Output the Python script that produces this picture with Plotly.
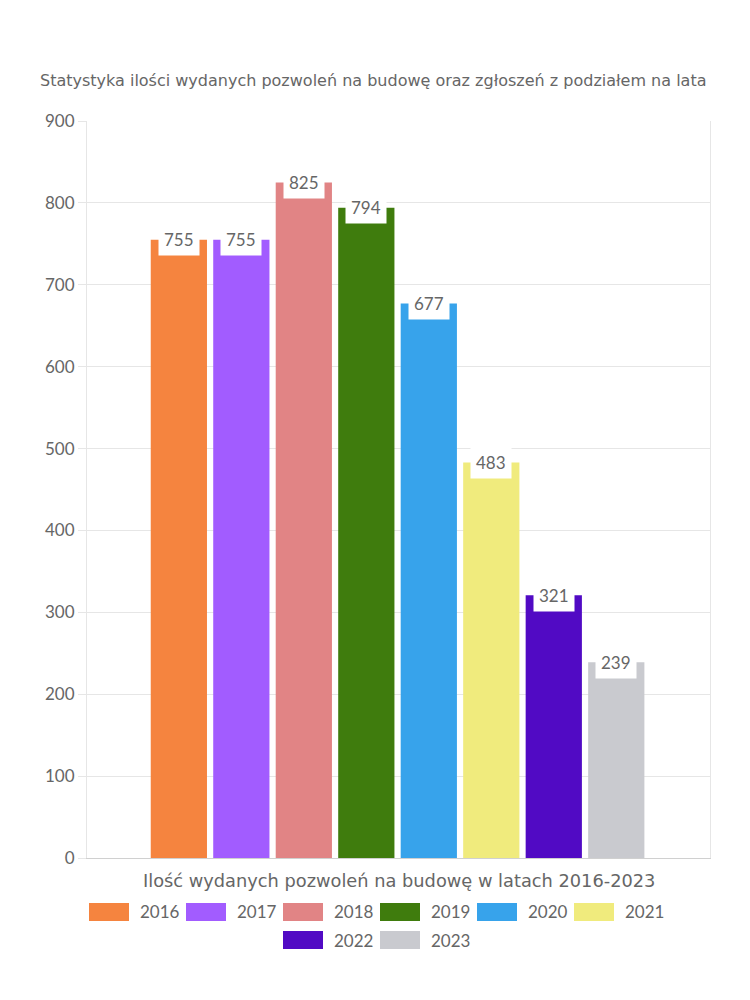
import plotly.graph_objects as go

years = ["2016", "2017", "2018", "2019", "2020", "2021", "2022", "2023"]
values = [755, 755, 825, 794, 677, 483, 321, 239]
colors = ["#F5843F", "#A25CFF", "#E18485", "#3F7C0D", "#37A3EB", "#F0EB7D", "#510AC4", "#C9CACF"]

title_text = "Statystyka ilości wydanych pozwoleń na budowę oraz zgłoszeń z podziałem na lata"
x_title = "Ilość wydanych pozwoleń na budowę w latach 2016-2023"

FONT = "Lato"
WIDE = "DejaVu Sans"
TXT = "#666666"
GRID = "#e6e6e6"

# plot area in pixels
L, R, T, B = 87, 710, 121, 858
W_PX, H_PX = R - L, B - T

fig = go.Figure()
for i, (yr, v, c) in enumerate(zip(years, values, colors)):
    fig.add_trace(go.Bar(x=[i], y=[v], name=yr, marker=dict(color=c, line=dict(width=0)),
                         width=0.9, showlegend=False, hoverinfo="y+name"))
    fig.add_annotation(x=i, y=v, text=str(v), showarrow=False, bgcolor="white",
                       font=dict(family=FONT, size=17, color=TXT),
                       xanchor="center", yanchor="middle", borderpad=5)

# x-axis title
fig.add_annotation(xref="paper", yref="paper", x=0.5, y=(B - 880) / H_PX, text=x_title,
                   showarrow=False, xanchor="center", yanchor="middle",
                   font=dict(family=WIDE, size=17.8, color=TXT))

# manual legend with wide colour boxes
rows = [years[:6], years[6:]]
row_y = [912, 940]
entry_w = 97
box_w, box_h = 40, 18
idx = 0
for r, row in enumerate(rows):
    total = len(row) * entry_w - 10
    x0 = 375 - total / 2
    for j, yr in enumerate(row):
        c = colors[idx]
        bx = x0 + j * entry_w
        fig.add_shape(type="rect", xref="paper", yref="paper",
                      x0=(bx - L) / W_PX, x1=(bx + box_w - L) / W_PX,
                      y0=(B - (row_y[r] + box_h / 2)) / H_PX, y1=(B - (row_y[r] - box_h / 2)) / H_PX,
                      fillcolor=c, line=dict(width=0))
        fig.add_annotation(xref="paper", yref="paper", x=(bx + box_w + 9 - L) / W_PX,
                           y=(B - row_y[r]) / H_PX, text=yr, showarrow=False,
                           xanchor="left", yanchor="middle",
                           font=dict(family=FONT, size=17, color=TXT))
        idx += 1

fig.update_layout(
    width=750, height=1000,
    margin=dict(l=L, r=750 - R, t=T, b=1000 - B),
    paper_bgcolor="white", plot_bgcolor="white",
    barmode="overlay",
    title=dict(text=title_text, x=40 / 750, xref="container", xanchor="left",
               y=1 - 80 / 1000, yref="container", yanchor="middle",
               font=dict(family=WIDE, size=16, color=TXT)),
    font=dict(family=FONT, color=TXT),
    showlegend=False,
)
fig.update_xaxes(range=[-1.47, 8.5], showticklabels=False, showgrid=False, zeroline=False,
                 showline=True, linecolor="#d0d0d0", mirror=False, ticks="")
fig.update_yaxes(range=[0, 900], dtick=100, showgrid=True, gridcolor=GRID, zeroline=False,
                 showline=True, linecolor=GRID, mirror=True, ticks="outside", ticklen=8,
                 tickcolor=GRID, tickfont=dict(family=FONT, size=17, color=TXT))

fig.write_html("out.html")
